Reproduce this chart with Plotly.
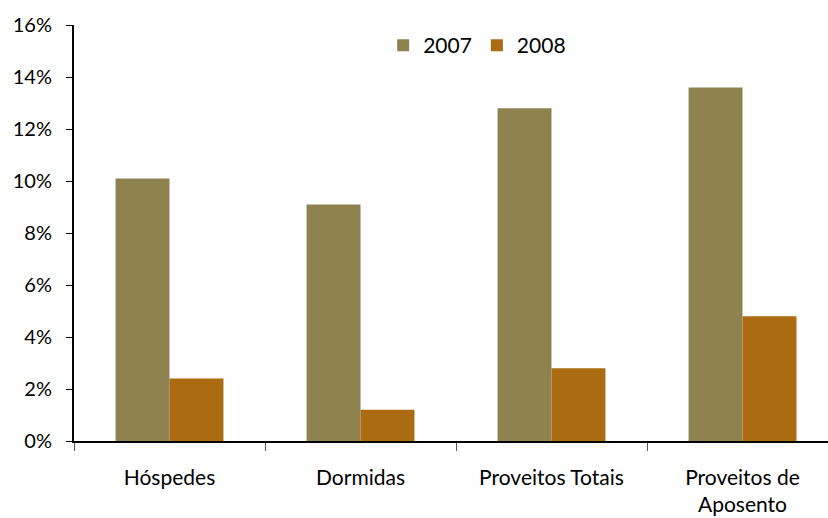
import plotly.graph_objects as go

categories = ["Hóspedes", "Dormidas", "Proveitos Totais", "Proveitos de<br>Aposento"]
values_2007 = [10.1, 9.1, 12.8, 13.6]
values_2008 = [2.4, 1.2, 2.8, 4.8]
y_ticks = [0, 2, 4, 6, 8, 10, 12, 14, 16]
y_tick_labels = [f"{v}%" for v in y_ticks]

FONT = "Lato, 'Open Sans', sans-serif"

fig = go.Figure()
fig.add_trace(go.Bar(name="2007", x=categories, y=values_2007,
                     marker=dict(color="#8E8350", line=dict(width=0))))
fig.add_trace(go.Bar(name="2008", x=categories, y=values_2008,
                     marker=dict(color="#AA6B11", line=dict(width=0))))

fig.update_layout(
    width=828, height=518,
    margin=dict(l=74, r=0, t=25, b=77),
    paper_bgcolor="white", plot_bgcolor="white",
    barmode="group", bargap=0.435, bargroupgap=0,
    font=dict(family=FONT, size=19, color="black"),
    legend=dict(orientation="h", x=0.41, y=1.0, xanchor="left", yanchor="top",
                font=dict(size=21), itemwidth=30, traceorder="normal",
                bgcolor="rgba(0,0,0,0)"),
    showlegend=True,
)
fig.update_xaxes(
    range=[-0.5, 3.4476], showline=True, linecolor="black", linewidth=1.5,
    ticks="outside", tickson="boundaries", ticklen=8, tickcolor="#555",
    tickfont=dict(size=21), showgrid=False, ticklabelstandoff=17,
)
fig.update_yaxes(
    range=[0, 16], tickvals=y_ticks, ticktext=y_tick_labels,
    showline=True, linecolor="black", linewidth=2,
    ticks="outside", ticklen=6, tickcolor="black",
    tickfont=dict(size=20), showgrid=False, zeroline=False,
    ticklabelstandoff=10,
)

fig.write_html("out.html")
